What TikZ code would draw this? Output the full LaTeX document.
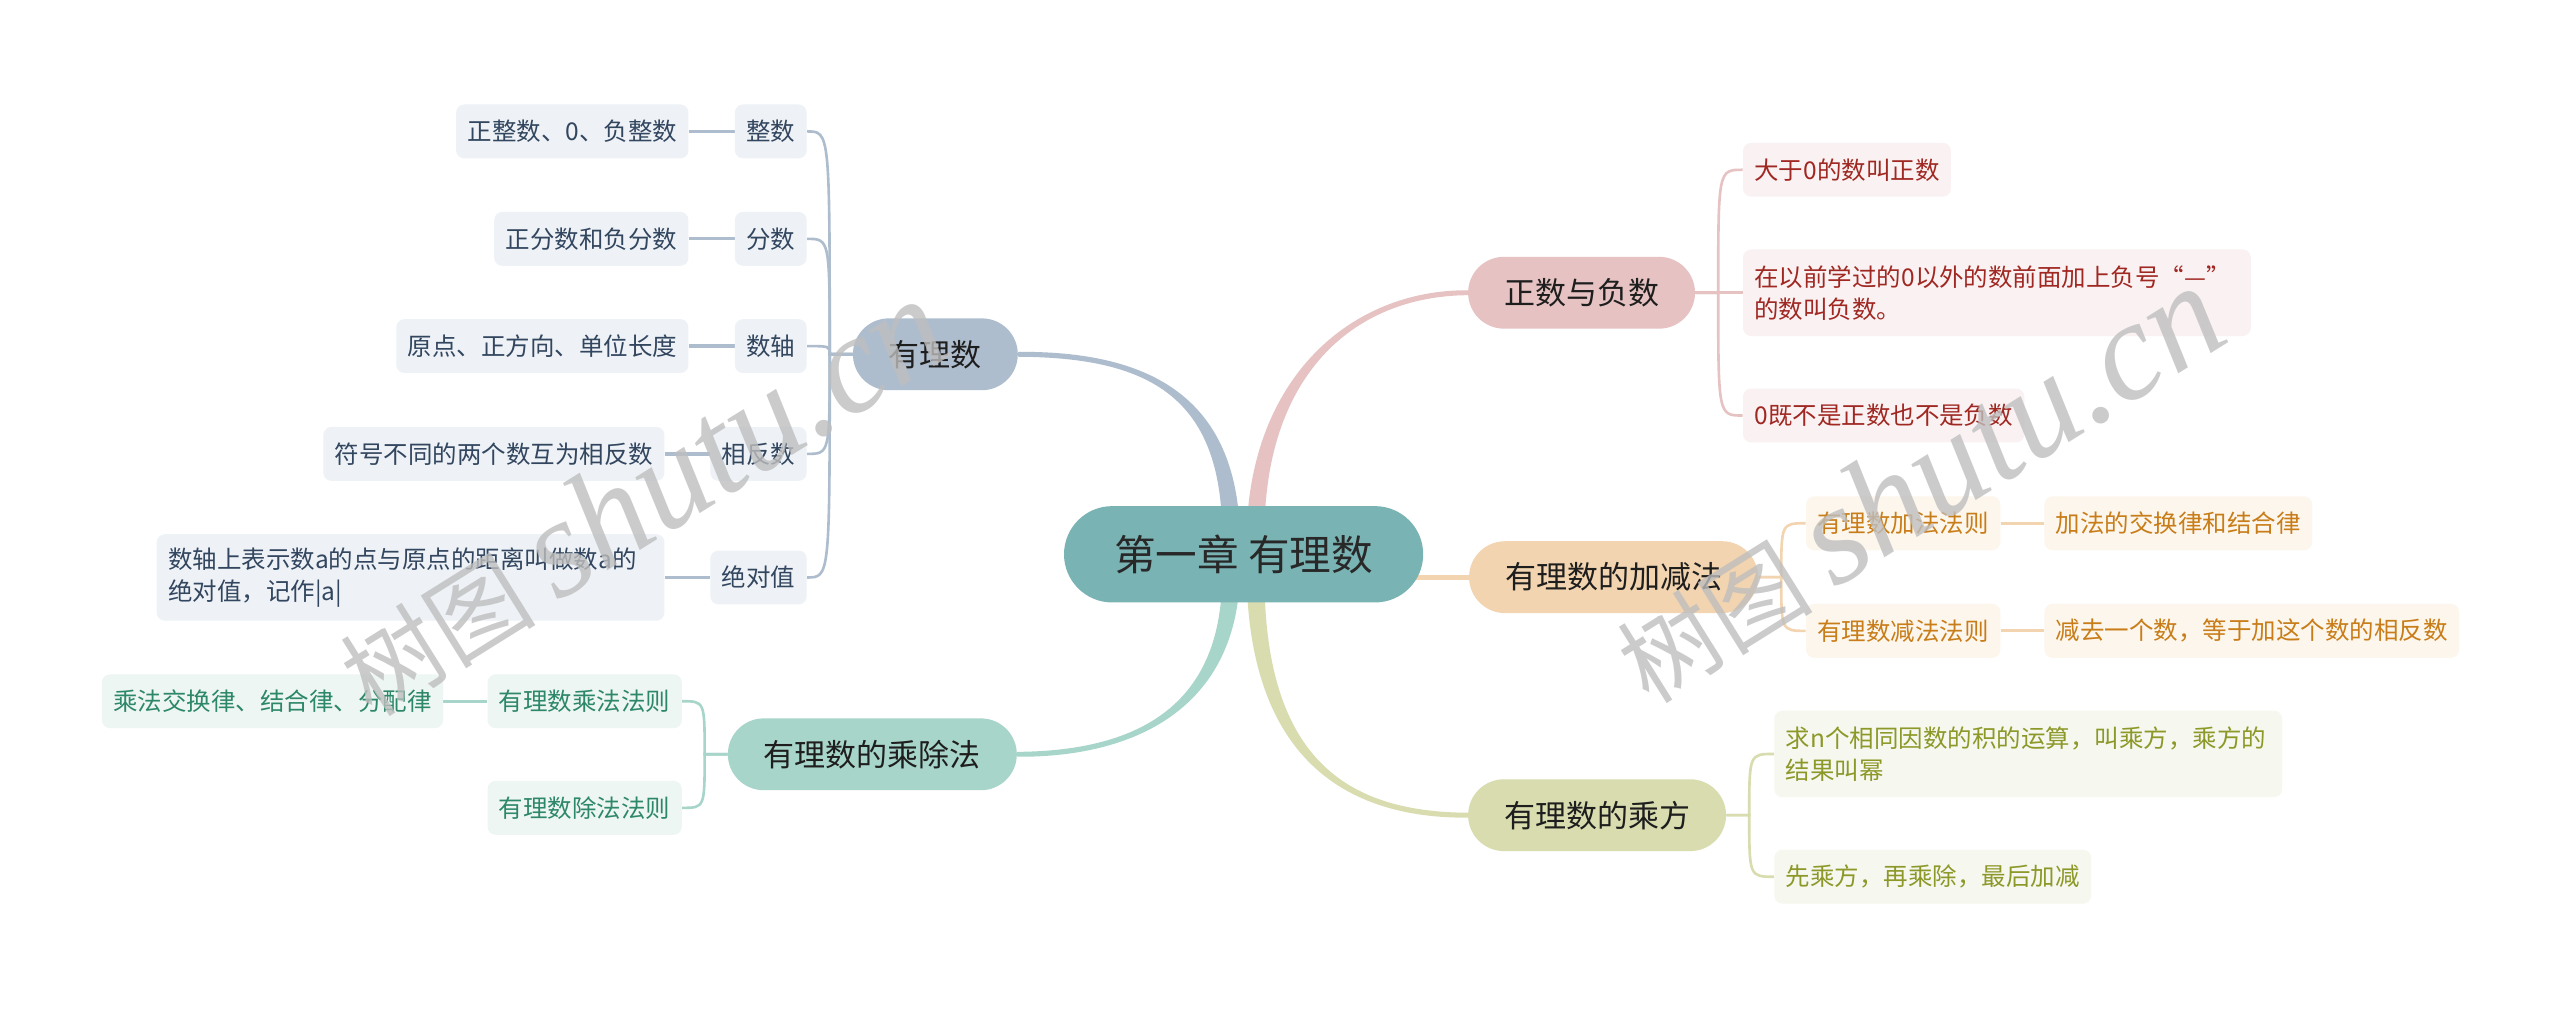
\documentclass[tikz,border=0pt]{standalone}
\usepackage{fontspec}
\setmainfont{Noto Sans CJK SC}
\newfontfamily\wmfont{Liberation Serif}
\usetikzlibrary{calc,backgrounds}

\definecolor{rootbg}{RGB}{122,179,180}
\definecolor{roottx}{RGB}{40,40,40}
\definecolor{ltx}{RGB}{30,30,30}
\definecolor{bl}{RGB}{174,189,206}
\definecolor{blbg}{RGB}{238,242,246}
\definecolor{bltx}{RGB}{50,70,95}
\definecolor{pk}{RGB}{230,195,194}
\definecolor{pkbg}{RGB}{250,242,242}
\definecolor{pktx}{RGB}{160,40,35}
\definecolor{pc}{RGB}{242,212,176}
\definecolor{pcbg}{RGB}{253,246,236}
\definecolor{pctx}{RGB}{200,125,25}
\definecolor{ol}{RGB}{216,220,174}
\definecolor{olbg}{RGB}{246,247,238}
\definecolor{oltx}{RGB}{140,152,40}
\definecolor{mn}{RGB}{168,213,201}
\definecolor{mnbg}{RGB}{238,246,243}
\definecolor{mntx}{RGB}{45,135,105}
\definecolor{wmc}{RGB}{190,190,190}

\begin{document}
\begin{tikzpicture}[x=1pt,y=-1pt,
  lone/.style={rounded corners=22pt, minimum height=44pt, inner xsep=22pt, inner ysep=0pt, font=\fontsize{19}{22}\selectfont, text=ltx},
  ltwo/.style={rounded corners=5pt, minimum height=33pt, inner xsep=7pt, inner ysep=0pt, font=\fontsize{15}{19.5}\selectfont},
  twoline/.style={minimum height=53pt, text width=297pt, align=left},
  blbox/.style={ltwo, fill=blbg, text=bltx},
  pkbox/.style={ltwo, fill=pkbg, text=pktx},
  pcbox/.style={ltwo, fill=pcbg, text=pctx},
  olbox/.style={ltwo, fill=olbg, text=oltx},
  mnbox/.style={ltwo, fill=mnbg, text=mntx},
  con/.style={line width=1.6pt},
  leaf/.style={line width=2pt},
  wm/.style={text=wmc, opacity=0.8, rotate=32, anchor=base west, inner sep=0pt, font=\fontsize{60}{60}\selectfont},
]
\useasboundingbox (0,0) rectangle (1568,618);

% root and level 1
\node[fill=rootbg, text=roottx, rounded corners=29.5pt, minimum width=220pt, minimum height=59pt, inner sep=0pt, font=\fontsize{25.5}{28}\selectfont] (root) at (761.7,339.5) {第一章 有理数};
\node[lone, fill=bl, anchor=east] (yl) at (623.6,217) {有理数};
\node[lone, fill=pk, anchor=west] (zf) at (899,179.3) {正数与负数};
\node[lone, fill=pc, anchor=west] (jj) at (899.6,353.5) {有理数的加减法};
\node[lone, fill=ol, anchor=west] (cf) at (899,499.3) {有理数的乘方};
\node[lone, fill=mn, anchor=east] (cc) at (623,462) {有理数的乘除法};

% left: 有理数
\node[blbox, anchor=east] (zs) at (494.3,80.5) {整数};
\node[blbox, anchor=east] (fs) at (494.3,146.3) {分数};
\node[blbox, anchor=east] (sz) at (494.3,212) {数轴};
\node[blbox, anchor=east] (xf) at (494.3,278) {相反数};
\node[blbox, anchor=east] (jd) at (494.3,353.7) {绝对值};
\node[blbox, anchor=east] (zs1) at (421.9,80.5) {正整数、0、负整数};
\node[blbox, anchor=east] (fs1) at (421.9,146.3) {正分数和负分数};
\node[blbox, anchor=east] (sz1) at (421.9,212) {原点、正方向、单位长度};
\node[blbox, anchor=east] (xf1) at (407.2,278) {符号不同的两个数互为相反数};
\node[blbox, twoline, anchor=east] (jd1) at (407.2,353.7) {数轴上表示数a的点与原点的距离叫做数a的\\绝对值，记作|a|};

% left: 乘除法
\node[mnbox, anchor=east] (cc1) at (417.8,429.5) {有理数乘法法则};
\node[mnbox, anchor=east] (cc2) at (417.8,494.8) {有理数除法法则};
\node[mnbox, anchor=east] (cc1a) at (271.6,429.5) {乘法交换律、结合律、分配律};

% right: 正数与负数
\node[pkbox, anchor=west] (zf1) at (1067.4,104) {大于0的数叫正数};
\node[pkbox, twoline, anchor=west] (zf2) at (1067.4,179.3) {在以前学过的0以外的数前面加上负号“—”\\的数叫负数。};
\node[pkbox, anchor=west] (zf3) at (1067.4,254.5) {0既不是正数也不是负数};

% right: 加减法
\node[pcbox, anchor=west] (jj1) at (1106,320.5) {有理数加法法则};
\node[pcbox, anchor=west] (jj2) at (1106,386.4) {有理数减法法则};
\node[pcbox, anchor=west] (jj1a) at (1252,320.5) {加法的交换律和结合律};
\node[pcbox, anchor=west] (jj2a) at (1252,386.4) {减去一个数，等于加这个数的相反数};

% right: 乘方
\node[olbox, twoline, anchor=west] (cf1) at (1086.6,461.8) {求n个相同因数的积的运算，叫乘方，乘方的\\结果叫幂};
\node[olbox, anchor=west] (cf2) at (1086.6,537) {先乘方，再乘除，最后加减};

\begin{pgfonlayer}{background}
  \fill[white] (0,0) rectangle (1568,618);
  % main tapered branches
  \fill[bl] (748.5,330) .. controls (749.5,240) and (700,219) .. ($(yl.east)+(0,1.5)$)
        -- ($(yl.east)+(0,-1.5)$) .. controls (700,215) and (758.5,240) .. (759.5,330) -- cycle;
  \fill[pk] (763.5,330) .. controls (764.5,231) and (828,177.3) .. ($(zf.west)+(0,-1.5)$)
        -- ($(zf.west)+(0,1.5)$) .. controls (828,181.3) and (773.5,231) .. (774.5,330) -- cycle;
  \fill[ol] (763.5,350) .. controls (764.5,470) and (830,501.3) .. ($(cf.west)+(0,1.5)$)
        -- ($(cf.west)+(0,-1.5)$) .. controls (830,497.3) and (773.5,470) .. (774.5,350) -- cycle;
  \fill[mn] (748.5,350) .. controls (749.5,430) and (700,460) .. ($(cc.east)+(0,-1.5)$)
        -- ($(cc.east)+(0,1.5)$) .. controls (700,464) and (758.5,430) .. (759.5,350) -- cycle;
  \coordinate (rj) at ($(root.center)+(100,14)$);
  \draw[pc, line width=3pt] (rj) -- (jj.west);

  % 有理数 bracket
  \coordinate (jy) at ($(yl.west)+(-14,0)$);
  \foreach \c in {zs,fs,sz,xf,jd}
    \draw[con, bl] (yl.west) -- (jy) .. controls (jy |- \c.east) and (jy |- \c.east) .. (\c.east);
  \foreach \a/\b in {zs1/zs,fs1/fs,sz1/sz,xf1/xf}
    \draw[leaf, bl] (\a.east) -- (\b.west);
  \draw[leaf, bl] (jd1.east |- jd.west) -- (jd.west);

  % 乘除法 bracket
  \coordinate (jc) at ($(cc.west)+(-14,0)$);
  \foreach \c in {cc1,cc2}
    \draw[con, mn] (cc.west) -- (jc) .. controls (jc |- \c.east) and (jc |- \c.east) .. (\c.east);
  \draw[leaf, mn] (cc1a.east) -- (cc1.west);

  % 正数与负数 bracket
  \coordinate (jz) at ($(zf.east)+(14,0)$);
  \foreach \c in {zf1,zf2,zf3}
    \draw[con, pk] (zf.east) -- (jz) .. controls (jz |- \c.west) and (jz |- \c.west) .. (\c.west);

  % 加减法 bracket
  \coordinate (jp) at ($(jj.east)+(14,0)$);
  \foreach \c in {jj1,jj2}
    \draw[con, pc] (jj.east) -- (jp) .. controls (jp |- \c.west) and (jp |- \c.west) .. (\c.west);
  \draw[leaf, pc] (jj1.east) -- (jj1a.west);
  \draw[leaf, pc] (jj2.east) -- (jj2a.west);

  % 乘方 bracket
  \coordinate (jo) at ($(cf.east)+(14,0)$);
  \foreach \c in {cf1,cf2}
    \draw[con, ol] (cf.east) -- (jo) .. controls (jo |- \c.west) and (jo |- \c.west) .. (\c.west);
\end{pgfonlayer}

% watermarks
\node[wm] (wm1) at (228,440) {树图 {\wmfont\itshape\fontsize{86}{86}\selectfont shutu.cn}};
\node[wm] (wm2) at (1010,432) {树图 {\wmfont\itshape\fontsize{86}{86}\selectfont shutu.cn}};
\end{tikzpicture}
\end{document}
